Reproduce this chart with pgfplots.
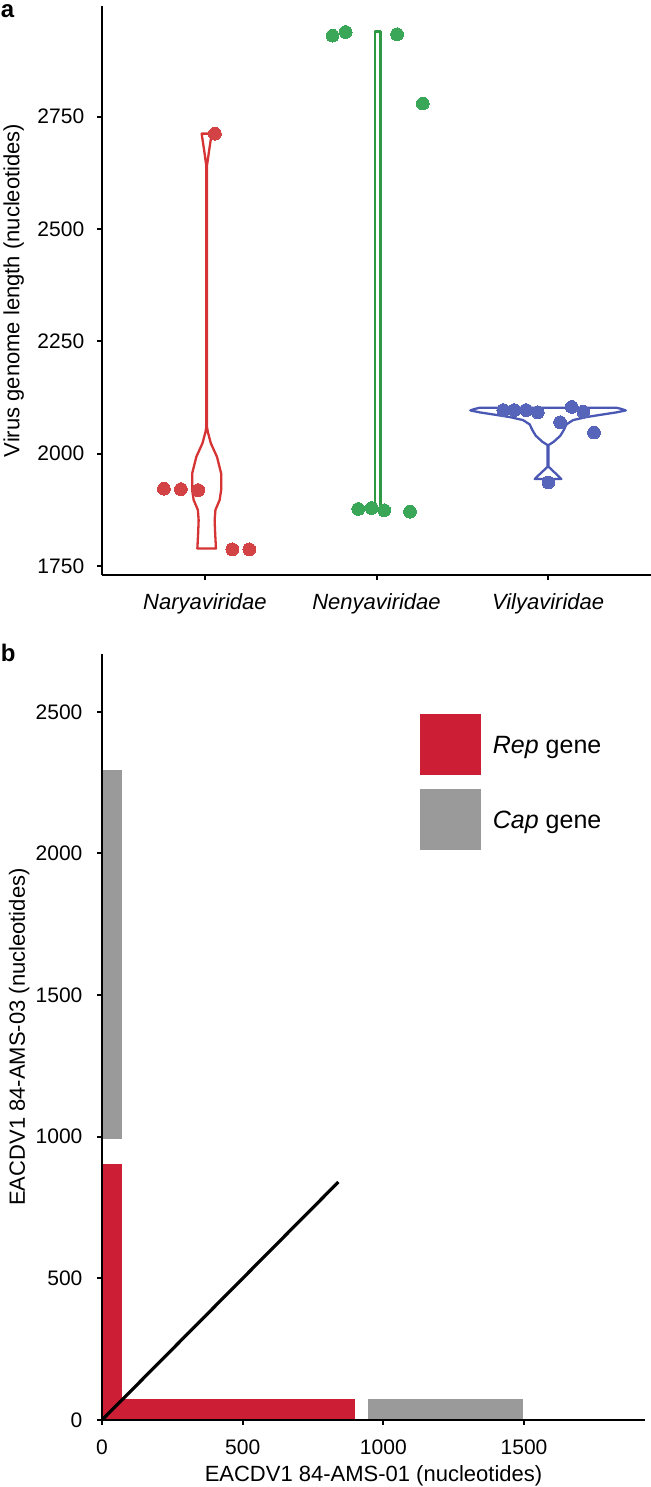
\documentclass[border=0pt]{standalone}
\usepackage{fontspec}
\setmainfont{Liberation Sans}
\usepackage{pgfplots}
\pgfplotsset{compat=1.18}

\definecolor{redline}{RGB}{214,52,52}
\definecolor{redpt}{RGB}{211,66,68}
\definecolor{greenline}{RGB}{46,155,68}
\definecolor{greenpt}{RGB}{58,166,88}
\definecolor{blueline}{RGB}{74,88,180}
\definecolor{bluept}{RGB}{86,100,186}
\definecolor{repred}{RGB}{204,31,54}
\definecolor{capgray}{RGB}{154,154,154}

\begin{document}
\begin{tikzpicture}
\useasboundingbox (0,0) rectangle (325.5pt,-743.5pt);
\pgfplotsset{
  common/.style={
    scale only axis,
    axis x line=bottom, axis y line=left,
    axis line style={-, line width=1pt, black},
    tick align=outside,
    major tick length=2.4pt,
    tick style={line width=1pt, black},
    /pgf/number format/assume math mode=true,
    /pgf/number format/1000 sep={},
    scaled ticks=false,
    ticklabel style={font=\fontsize{10.5}{12}\selectfont, inner sep=0pt},
    clip=false,
  }
}
% ---------------- panel a ----------------
\begin{axis}[common,
  at={(51pt,-287.5pt)}, anchor=south west,
  width=274.5pt, height=284.5pt,
  xmin=0.4, xmax=3.6, ymin=1730, ymax=2996,
  xtick={1,2,3},
  xticklabels={Naryaviridae,Nenyaviridae,Vilyaviridae},
  xticklabel style={font=\fontsize{11}{13}\selectfont\itshape, anchor=base, yshift=-15pt},
  yticklabel style={anchor=east, xshift=-6.3pt},
  ytick={1750,2000,2250,2500,2750},
  ylabel={Virus genome length (nucleotides)},
  every axis y label/.style={at={([xshift=-41.25pt]axis description cs:0,0.5)}, rotate=90, anchor=base, font=\fontsize{11}{13}\selectfont},
]
% Naryaviridae violin
\addplot[redline, line width=1.15pt, line join=round] coordinates {
 (1.0642,1789) (1.0596,1823) (1.0566,1852) (1.0613,1875) (1.0858,1897) (1.0945,1919)
 (1.0945,1956) (1.0701,1993) (1.0345,2023) (1.0170,2048) (1.0117,2060) (1.0117,2640)
 (1.0246,2675) (1.0392,2712)
 (0.9808,2712) (0.9954,2675) (1.0083,2640) (1.0083,2060) (1.0030,2048) (0.9855,2023)
 (0.9499,1993) (0.9255,1956) (0.9255,1919) (0.9342,1897) (0.9587,1875) (0.9634,1852)
 (0.9604,1823) (0.9558,1789)} -- cycle;
% Nenyaviridae violin
\addplot[greenline, line width=1.3pt, line join=round] coordinates {
 (1.9915,1872) (2.0225,1872) (2.0225,2939) (1.9915,2939)} -- cycle;
% Vilyaviridae violin
\addplot[blueline, line width=1.15pt, line join=round] coordinates {
 (3.0776,1943.5) (3.0583,1950.9) (3.0292,1961.3) (3.0029,1970.9) (3.0029,2019.1)
 (3.0332,2026.5) (3.0717,2039.9) (3.0915,2052.5) (3.107,2065.1) (3.146,2074.7)
 (3.223,2081.4) (3.321,2087.3) (3.398,2091.8) (3.453,2096.2) (3.427,2099.5) (3.398,2102.2)
 (2.602,2102.2) (2.573,2099.5) (2.547,2096.2) (2.602,2091.8) (2.679,2087.3) (2.777,2081.4)
 (2.854,2074.7) (2.893,2065.1) (2.9085,2052.5) (2.9283,2039.9) (2.9668,2026.5)
 (2.9971,2019.1) (2.9971,1970.9) (2.9708,1961.3) (2.9417,1950.9) (2.9224,1943.5)} -- cycle;
% points
\addplot[only marks, mark=*, mark size=3.2pt, mark options={fill=redpt, draw=redpt, line width=0pt}] coordinates {
 (0.761,1922) (0.860,1921) (0.961,1919) (1.160,1787) (1.259,1787) (1.058,2712)};
\addplot[only marks, mark=*, mark size=3.2pt, mark options={fill=greenpt, draw=greenpt, line width=0pt}] coordinates {
 (1.744,2930) (1.820,2938) (2.120,2933) (2.270,2779)
 (1.894,1877) (1.972,1879) (2.045,1874) (2.195,1871)};
\addplot[only marks, mark=*, mark size=3.2pt, mark options={fill=bluept, draw=bluept, line width=0pt}] coordinates {
 (2.739,2097) (2.803,2097) (2.872,2097) (2.940,2092) (3.138,2104) (3.206,2093)
 (3.070,2070) (3.268,2047) (3.002,1936)};
\end{axis}
% ---------------- panel b ----------------
\begin{axis}[common,
  at={(51pt,-710pt)}, anchor=south west,
  width=271.5pt, height=383pt,
  xmin=0, xmax=1930, ymin=0, ymax=2704,
  axis on top,
  xtick={0,500,1000,1500},
  ytick={0,500,1000,1500,2000,2500},
  xticklabel style={anchor=base, yshift=-14.75pt},
  yticklabel style={anchor=east, xshift=-7.2pt},
  xlabel={EACDV1 84-AMS-01 (nucleotides)},
  ylabel={EACDV1 84-AMS-03 (nucleotides)},
  every axis x label/.style={at={([yshift=-30.6pt]axis description cs:0.5,0)}, anchor=base, font=\fontsize{11}{13}\selectfont},
  every axis y label/.style={at={([xshift=-38.5pt]axis description cs:0,0.5)}, rotate=90, anchor=base, font=\fontsize{11}{13}\selectfont},
]
\addplot[fill=capgray, draw=none] coordinates {(0,991) (71,991) (71,2296) (0,2296)} -- cycle;
\addplot[fill=repred, draw=none] coordinates {(0,0) (71,0) (71,902) (0,902)} -- cycle;
\addplot[fill=repred, draw=none] coordinates {(0,0) (898,0) (898,73) (0,73)} -- cycle;
\addplot[fill=capgray, draw=none] coordinates {(945,0) (1495,0) (1495,73) (945,73)} -- cycle;
\addplot[black, line width=1.6pt] coordinates {(0,0) (840,840)};
\end{axis}
% legend of panel b
\fill[repred] (210pt,-357pt) rectangle (240.65pt,-387.65pt);
\fill[capgray] (210pt,-394.5pt) rectangle (240.65pt,-425pt);
\node[anchor=base west, inner sep=0pt, font=\fontsize{12.5}{14}\selectfont] at (246.25pt,-376.7pt) {\textit{Rep} gene};
\node[anchor=base west, inner sep=0pt, font=\fontsize{12.5}{14}\selectfont] at (246.25pt,-414pt) {\textit{Cap} gene};
% panel letters
\node[anchor=base west, inner sep=0pt, font=\bfseries\fontsize{12}{14}\selectfont] at (0.3pt,-9pt) {a};
\node[anchor=base west, inner sep=0pt, font=\bfseries\fontsize{12}{14}\selectfont] at (0.3pt,-330.8pt) {b};
\end{tikzpicture}
\end{document}
